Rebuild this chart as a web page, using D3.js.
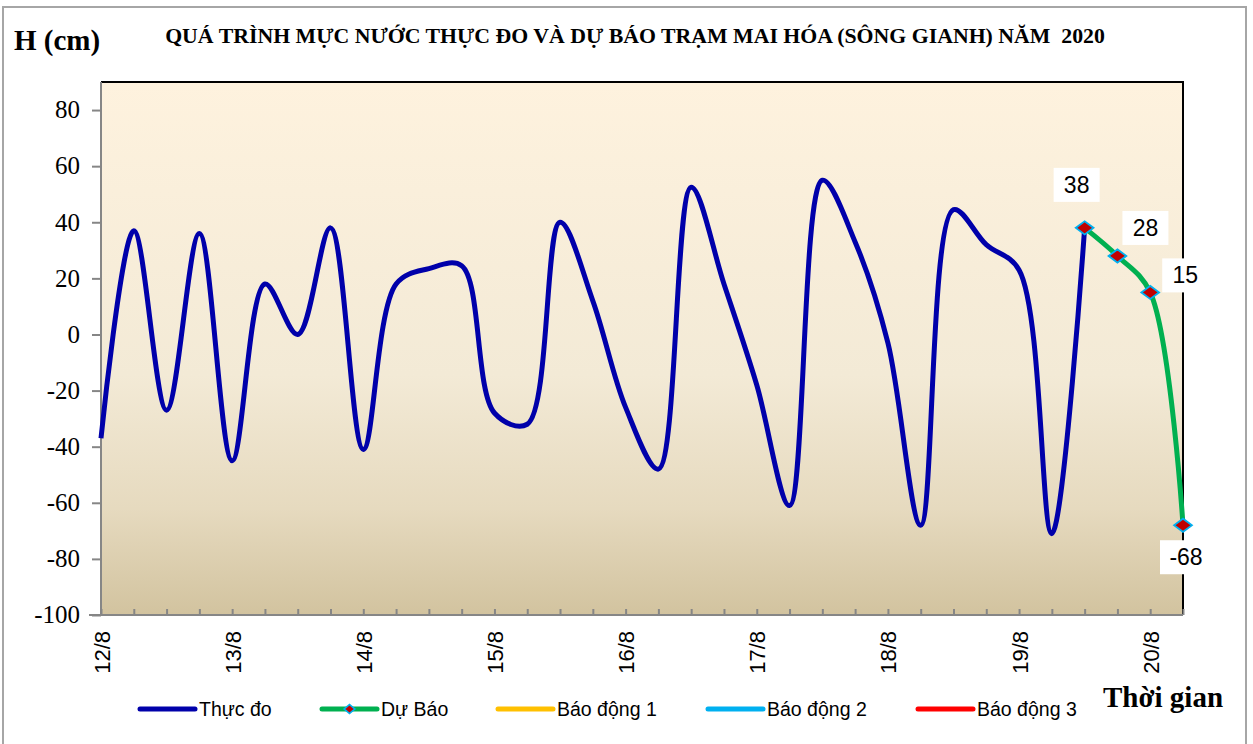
<!DOCTYPE html>
<html>
<head>
<meta charset="utf-8">
<script src="https://cdn.jsdelivr.net/npm/d3@7"></script>
<style>
  html, body { margin: 0; padding: 0; background: #fff; }
  svg { display: block; }
  .serif { font-family: "Liberation Serif", "Times New Roman", serif; }
  .sans { font-family: "Liberation Sans", Arial, sans-serif; }
</style>
</head>
<body>
<svg id="chart" width="1253" height="744"></svg>
<script>
// ---------- DATA ----------
const dayLabels = ["12/8", "13/8", "14/8", "15/8", "16/8", "17/8", "18/8", "19/8", "20/8"];
const hourSlots = ["00h", "06h", "12h", "18h"];
// 6-hourly categories from 12/8 00h to 20/8 06h
const categories = dayLabels.flatMap(d => hourSlots.map(h => d + " " + h)).slice(0, 34);

// Observed water level (cm), 12/8 00h .. 19/8 12h
const observed = [-37, 37, -27, 36, -45, 18, 0, 38, -41, 18, 23.5, 24.5, -28, -32, 40, 12,
                  -26, -48, 52.5, 18, -18, -61, 55, 33, -3, -68, 44.5, 32, 23, -71, 38];
// Forecast (cm), 19/8 12h .. 20/8 06h
const forecastCats = ["19/8 12h", "19/8 18h", "20/8 00h", "20/8 06h"];
const forecast = [38, 28, 15, -68];

const yTicks = [-100, -80, -60, -40, -20, 0, 20, 40, 60, 80];
const xTickLabels = dayLabels;

const title = "QUÁ TRÌNH MỰC NƯỚC THỰC ĐO VÀ DỰ BÁO TRẠM MAI HÓA (SÔNG GIANH) NĂM  2020";
const legendItems = ["Thực đo", "Dự Báo", "Báo động 1", "Báo động 2", "Báo động 3"];
const legendColors = ["#0000AA", "#00B050", "#FFC000", "#00B0F0", "#FF0000"];

// ---------- LAYOUT ----------
const plot = { left: 101, right: 1183, top: 82, bottom: 615 };
const labelOffsets = [[-8, -43], [28, -28], [35, -17], [3, 32]];
const legendX = [140, 322, 498, 708, 918];
const legendY = 709;

const svg = d3.select("#chart");

// outer frame
svg.append("rect").attr("x", 3).attr("y", 7).attr("width", 1243).attr("height", 745)
  .attr("fill", "#fff").attr("stroke", "#A6A6A6").attr("stroke-width", 2);

// gradient
const defs = svg.append("defs");
const grad = defs.append("linearGradient").attr("id", "bg").attr("x1", 0).attr("y1", 0).attr("x2", 0).attr("y2", 1);
grad.append("stop").attr("offset", "0%").attr("stop-color", "#FEF2DE");
grad.append("stop").attr("offset", "55%").attr("stop-color", "#F3EAD6");
grad.append("stop").attr("offset", "80%").attr("stop-color", "#E6DABF");
grad.append("stop").attr("offset", "100%").attr("stop-color", "#D2C39F");

svg.append("rect").attr("x", plot.left).attr("y", plot.top)
  .attr("width", plot.right - plot.left).attr("height", plot.bottom - plot.top)
  .attr("fill", "url(#bg)");

// scales
const x = d3.scalePoint().domain(categories).range([plot.left, plot.right]);
const y = d3.scaleLinear().domain([-100, 90]).range([plot.bottom, plot.top]);

// plot border top/right black
svg.append("line").attr("x1", plot.left).attr("x2", plot.right + 1).attr("y1", plot.top).attr("y2", plot.top)
  .attr("stroke", "#000").attr("stroke-width", 2);
svg.append("line").attr("x1", plot.right).attr("x2", plot.right).attr("y1", plot.top).attr("y2", plot.bottom)
  .attr("stroke", "#000").attr("stroke-width", 2);

// Y axis
const yAxis = svg.append("g").attr("transform", `translate(${plot.left},0)`)
  .call(d3.axisLeft(y).tickValues(yTicks).tickFormat("").tickSize(9).tickSizeOuter(0));
yAxis.select(".domain").attr("stroke", "#868686").attr("stroke-width", 2)
  .attr("d", `M0,${plot.top}V${plot.bottom}`);
yAxis.selectAll(".tick line").attr("stroke", "#868686").attr("stroke-width", 2);
svg.append("g").selectAll("text").data(yTicks).join("text")
  .attr("class", "serif")
  .attr("x", plot.left - 21).attr("y", d => y(d)).attr("dy", "0.33em")
  .attr("text-anchor", "end").attr("font-size", 25).attr("fill", "#000")
  .text(d => String(d));

// X axis (ticks inward)
const xAxis = svg.append("g").attr("transform", `translate(0,${plot.bottom})`)
  .call(d3.axisBottom(x).tickSize(-6).tickSizeOuter(0).tickFormat(""));
xAxis.select(".domain").attr("stroke", "#868686").attr("stroke-width", 2)
  .attr("d", `M${plot.left - 12},0H${plot.right}`);
xAxis.selectAll(".tick line").attr("stroke", "#868686").attr("stroke-width", 2);

// X labels (every day)
svg.append("g").selectAll("text").data(xTickLabels).join("text")
  .attr("class", "sans")
  .attr("transform", d => `translate(${x(d + " 00h") + 1},${plot.bottom + 16}) rotate(-90)`)
  .attr("text-anchor", "end").attr("dominant-baseline", "central")
  .attr("font-size", 22).attr("fill", "#000")
  .text(d => d);

// lines
const lineGen = d3.line().x(d => x(d.c)).y(d => y(d.v)).curve(d3.curveCatmullRom.alpha(0.5));
const obsData = observed.map((v, i) => ({ c: categories[i], v }));
const fcData = forecast.map((v, i) => ({ c: forecastCats[i], v }));

svg.append("path").datum(obsData).attr("d", lineGen)
  .attr("fill", "none").attr("stroke", "#0000AA").attr("stroke-width", 5).attr("stroke-linejoin", "round");
svg.append("path").datum(fcData).attr("d", lineGen)
  .attr("fill", "none").attr("stroke", "#00B050").attr("stroke-width", 5).attr("stroke-linejoin", "round");

// markers
const diamond = d3.symbol().type(d3.symbolDiamond2).size(110);
svg.append("g").selectAll("path").data(fcData).join("path")
  .attr("transform", d => `translate(${x(d.c)},${y(d.v)}) scale(1.35,1)`)
  .attr("d", diamond).attr("fill", "#C00000").attr("stroke", "#00B0F0").attr("stroke-width", 1.6);

// data labels
const lbl = svg.append("g").selectAll("g").data(fcData).join("g")
  .attr("transform", (d, i) => `translate(${x(d.c) + labelOffsets[i][0]},${y(d.v) + labelOffsets[i][1]})`);
lbl.append("rect").attr("x", d => (String(d.v).length > 2 ? -26 : -23)).attr("y", -17)
  .attr("width", d => (String(d.v).length > 2 ? 52 : 46)).attr("height", 34).attr("fill", "#fff");
lbl.append("text").attr("class", "sans").attr("text-anchor", "middle").attr("dominant-baseline", "central")
  .attr("font-size", 23).attr("fill", "#000")
  .text(d => d.v);

// titles
svg.append("text").attr("class", "serif").attr("x", 635).attr("y", 43).attr("text-anchor", "middle")
  .attr("font-weight", "bold").style("white-space", "pre")
  .attr("font-size", 21.8).attr("fill", "#000").text(title);
svg.append("text").attr("class", "serif").attr("x", 14).attr("y", 50)
  .attr("font-weight", "bold").attr("font-size", 29).attr("fill", "#000").text("H (cm)");
svg.append("text").attr("class", "serif").attr("x", 1103).attr("y", 707)
  .attr("font-weight", "bold").attr("font-size", 29).attr("fill", "#000").text("Thời gian");

// legend
const lg = svg.append("g").selectAll("g").data(legendItems).join("g")
  .attr("transform", (d, i) => `translate(${legendX[i]},${legendY})`);
lg.append("line").attr("x1", 0).attr("x2", 55).attr("y1", 0).attr("y2", 0)
  .attr("stroke", (d, i) => legendColors[i]).attr("stroke-width", 5).attr("stroke-linecap", "round");
lg.filter((d, i) => i === 1).append("path")
  .attr("transform", "translate(27.5,0) scale(1.2,1)")
  .attr("d", d3.symbol().type(d3.symbolDiamond2).size(50))
  .attr("fill", "#C00000").attr("stroke", "#00B0F0").attr("stroke-width", 1.5);
lg.append("text").attr("class", "sans").attr("x", 59).attr("y", 0).attr("dominant-baseline", "central")
  .attr("font-size", 19.5).attr("fill", "#000")
  .text(d => d);
</script>
</body>
</html>
